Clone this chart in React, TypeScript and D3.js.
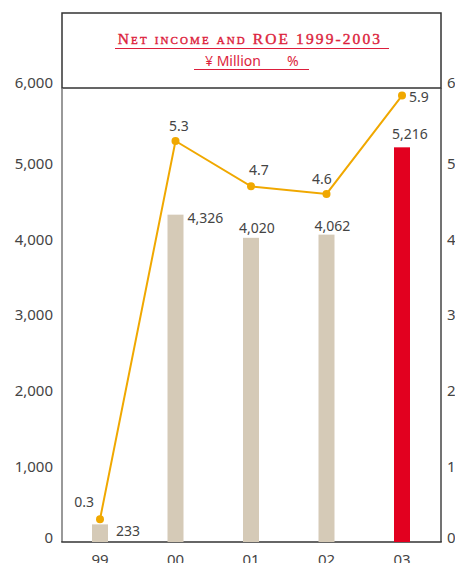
import React from "react";
import * as d3 from "d3";

// Fiscal years, net income (¥ million) and ROE (%)
const years = ["99", "00", "01", "02", "03"];
const netIncome = [233, 4326, 4020, 4062, 5216];
const roe = [0.3, 5.3, 4.7, 4.6, 5.9];
const leftTicks = [0, 1000, 2000, 3000, 4000, 5000, 6000];
const rightTicks = [0, 1, 2, 3, 4, 5, 6];

// label offsets (dx, dy) relative to the bar top centre / the ROE point
const barLabelPos: [number, number, string][] = [
  [16, 12, "start"],
  [12, 8, "start"],
  [6, -5, "middle"],
  [6, -4, "middle"],
  [8, -8, "middle"],
];
const roeLabelPos: [number, number, string][] = [
  [-6, -12, "end"],
  [3.5, -10, "middle"],
  [8, -11, "middle"],
  [-4.5, -10, "middle"],
  [7, 6, "start"],
];

const W = 455;
const H = 563;
const left = 62;
const right = 441;
const top = 88;
const bottom = 542;

const BEIGE = "#d5cab7";
const RED = "#e2001f";
const TITLE_RED = "#dc1e3c";
const ORANGE = "#f0a800";
const TEXT = "#444";
const SANS = "'Noto Sans', 'DejaVu Sans', sans-serif";

export default function App() {
  const x = d3.scalePoint<string>().domain(years).range([100, 402]);
  const y = d3.scaleLinear().domain([0, 6000]).range([bottom, top]);
  const yR = d3.scaleLinear().domain([0, 6]).range([bottom, top]);
  const barW = 16;

  const line = d3
    .line<number>()
    .x((_, i) => x(years[i]) as number)
    .y((d) => yR(d));

  const fmt = d3.format(",");
  // end ticks are nudged up so they clear the frame lines
  const tickShift = (i: number, n: number) => (i === n - 1 ? -5 : i === 0 ? -4 : 0);

  return (
    <svg
      width={W}
      height={H}
      style={{ position: "absolute", left: 0, top: 0, background: "#fff" }}
      fontFamily={SANS}
    >
      {/* heading box */}
      <rect x={left} y={13} width={right - left} height={top - 13} fill="none" stroke="#333" strokeWidth={1.5} />
      <text
        x={250}
        y={44}
        textAnchor="middle"
        fill={TITLE_RED}
        stroke={TITLE_RED}
        strokeWidth={0.4}
        fontFamily="'Liberation Serif', 'DejaVu Serif', serif"
        fontSize={15.5}
        letterSpacing={2.1}
        style={{ fontVariant: "small-caps" }}
      >
        Net income and ROE 1999-2003
      </text>
      <line x1={115} x2={389} y1={48.5} y2={48.5} stroke={TITLE_RED} strokeWidth={1.2} />
      <text x={205} y={66} fill={TITLE_RED} fontSize={14}>
        ¥ Million
      </text>
      <text x={287} y={66} fill={TITLE_RED} fontSize={14}>
        %
      </text>
      <line x1={194} x2={309} y1={69.5} y2={69.5} stroke={TITLE_RED} strokeWidth={1.2} />

      {/* axes */}
      <line x1={left} x2={left} y1={top} y2={bottom} stroke="#777" strokeWidth={1.5} />
      <line x1={right} x2={right} y1={top} y2={bottom} stroke="#444" strokeWidth={1.5} />
      <line x1={left - 0.75} x2={right + 0.75} y1={bottom} y2={bottom} stroke="#333" strokeWidth={1.5} />

      {leftTicks.map((t, i) => (
        <text
          key={"l" + t}
          x={53}
          y={y(t) + tickShift(i, leftTicks.length)}
          dy="0.35em"
          textAnchor="end"
          fill={TEXT}
          fontSize={15}
        >
          {fmt(t)}
        </text>
      ))}
      {rightTicks.map((t, i) => (
        <text
          key={"r" + t}
          x={447}
          y={yR(t) + tickShift(i, rightTicks.length)}
          dy="0.35em"
          textAnchor="start"
          fill={TEXT}
          fontSize={15}
        >
          {t}
        </text>
      ))}
      {years.map((c) => (
        <text key={"c" + c} x={x(c)} y={565} textAnchor="middle" fill={TEXT} fontSize={15}>
          {c}
        </text>
      ))}

      {/* bars */}
      {netIncome.map((v, i) => {
        const cx = x(years[i]) as number;
        return (
          <rect
            key={"b" + i}
            x={cx - barW / 2}
            y={y(v)}
            width={barW}
            height={bottom - y(v)}
            fill={i === years.length - 1 ? RED : BEIGE}
          />
        );
      })}
      {netIncome.map((v, i) => {
        const cx = x(years[i]) as number;
        const [dx, dy, anchor] = barLabelPos[i];
        return (
          <text key={"bl" + i} x={cx + dx} y={y(v) + dy} textAnchor={anchor} fill={TEXT} fontSize={14}>
            {fmt(v)}
          </text>
        );
      })}

      {/* ROE line */}
      <path d={line(roe) ?? ""} fill="none" stroke={ORANGE} strokeWidth={2} />
      {roe.map((v, i) => (
        <circle key={"p" + i} cx={x(years[i])} cy={yR(v)} r={4} fill={ORANGE} />
      ))}
      {roe.map((v, i) => {
        const [dx, dy, anchor] = roeLabelPos[i];
        return (
          <text
            key={"rl" + i}
            x={(x(years[i]) as number) + dx}
            y={yR(v) + dy}
            textAnchor={anchor}
            fill={TEXT}
            fontSize={14}
          >
            {v}
          </text>
        );
      })}
    </svg>
  );
}
